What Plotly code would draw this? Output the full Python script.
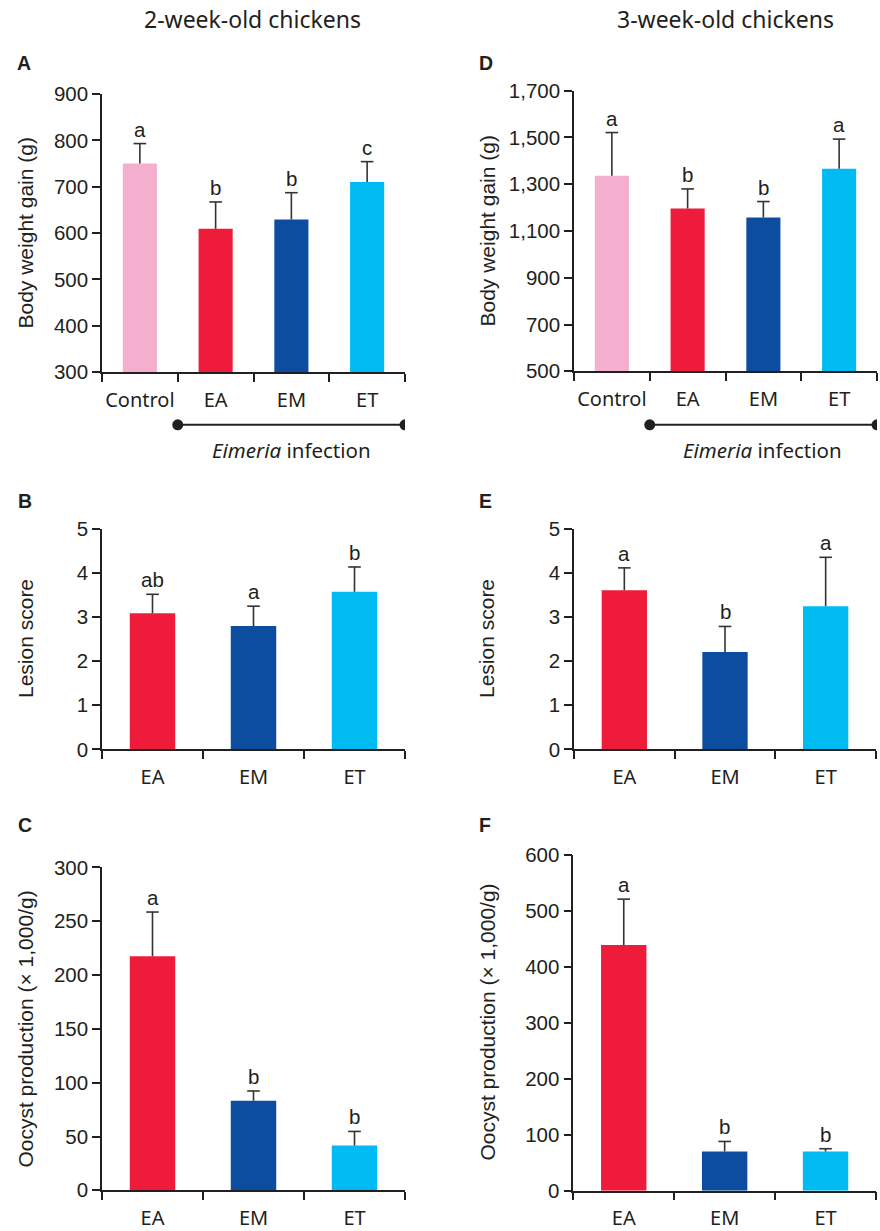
import plotly.graph_objects as go

W, H = 880, 1231

# ---------------- data ----------------
cats_bw = ["Control", "EA", "EM", "ET"]
cats_inf = ["EA", "EM", "ET"]

bw2_mean = [750, 609, 629, 710]
bw2_err = [43, 58, 58, 44]
bw2_sig = ["a", "b", "b", "c"]

bw3_mean = [1336, 1196, 1158, 1366]
bw3_err = [185, 84, 68, 127]
bw3_sig = ["a", "b", "b", "a"]

ls2_mean = [3.09, 2.80, 3.58]
ls2_err = [0.43, 0.45, 0.56]
ls2_sig = ["ab", "a", "b"]

ls3_mean = [3.61, 2.21, 3.25]
ls3_err = [0.51, 0.58, 1.11]
ls3_sig = ["a", "b", "a"]

oo2_mean = [217.6, 83.3, 41.7]
oo2_err = [41, 9, 13]
oo2_sig = ["a", "b", "b"]

oo3_mean = [439, 70, 70]
oo3_err = [82, 18, 5]
oo3_sig = ["a", "b", "b"]

bw2_ticks = [300, 400, 500, 600, 700, 800, 900]
bw3_ticks = [500, 700, 900, 1100, 1300, 1500, 1700]
ls_ticks = [0, 1, 2, 3, 4, 5]
oo2_ticks = [0, 50, 100, 150, 200, 250, 300]
oo3_ticks = [0, 100, 200, 300, 400, 500, 600]

col_bw = ["#F4AECE", "#EE1B3B", "#0D4DA0", "#00BBF1"]
col_inf = ["#EE1B3B", "#0D4DA0", "#00BBF1"]

AX = "#231F20"
ERR = "#333333"
NUM_FONT = "Liberation Sans, Arial, sans-serif"
TXT_FONT = "Noto Sans, sans-serif"

panels = [
    ("A", cats_bw, bw2_mean, bw2_err, bw2_sig, col_bw, [300, 900], bw2_ticks, 102, 405, 94, 373, "Body weight gain (g)"),
    ("D", cats_bw, bw3_mean, bw3_err, bw3_sig, col_bw, [500, 1700], bw3_ticks, 574, 877, 90.7, 372.3, "Body weight gain (g)"),
    ("B", cats_inf, ls2_mean, ls2_err, ls2_sig, col_inf, [0, 5], ls_ticks, 102, 405, 530.7, 751.7, "Lesion score"),
    ("E", cats_inf, ls3_mean, ls3_err, ls3_sig, col_inf, [0, 5], ls_ticks, 574, 876, 530.7, 751.7, "Lesion score"),
    ("C", cats_inf, oo2_mean, oo2_err, oo2_sig, col_inf, [0, 300], oo2_ticks, 102, 405, 870.3, 1194.3, "Oocyst production (× 1,000/g)"),
    ("F", cats_inf, oo3_mean, oo3_err, oo3_sig, col_inf, [0, 600], oo3_ticks, 573.3, 876, 857.7, 1194.7, "Oocyst production (× 1,000/g)"),
]

letter_pos = {"A": (15, 63), "D": (477, 63), "B": (16, 502), "E": (477, 502), "C": (16, 828), "F": (477, 828)}
ytitle_pos = {"A": (25, 234), "D": (488, 232), "B": (25, 641), "E": (486, 641), "C": (26, 1033), "F": (488, 1026)}

fig = go.Figure()
annotations = []
shapes = []

# empirical correction of vertical placement observed in the rendering pipeline
VOFF, VSCALE = 11.7, 0.980


def px2x(p):
    return p / W


def px2y(p):
    q = (p - VOFF) / VSCALE
    return 1 - q / H


for i, (lab, cats, mean, err, sig, cols, yr, ytk, x0, x1, yt, yb, ytitle) in enumerate(panels):
    n = i + 1
    xa = "x" if n == 1 else f"x{n}"
    ya = "y" if n == 1 else f"y{n}"
    tops = [m + e for m, e in zip(mean, err)]
    fig.add_trace(go.Bar(
        x=cats, y=mean, marker=dict(color=cols, line=dict(width=0)),
        width=0.45,
        error_y=dict(type="data", array=err, arrayminus=[0] * len(err), symmetric=False,
                     color=ERR, thickness=1.6, width=0),
        xaxis=xa, yaxis=ya, showlegend=False, hoverinfo="skip",
    ))
    fig.add_trace(go.Scatter(
        x=cats, y=tops, mode="markers",
        marker=dict(symbol="line-ew-open", size=9, color=ERR, line=dict(color=ERR, width=1.6)),
        xaxis=xa, yaxis=ya, showlegend=False, hoverinfo="skip", cliponaxis=False,
    ))
    xkey = "xaxis" if n == 1 else f"xaxis{n}"
    ykey = "yaxis" if n == 1 else f"yaxis{n}"
    fig.update_layout(**{
        xkey: dict(
            domain=[px2x(x0), px2x(x1)], anchor=ya, type="category",
            categoryorder="array", categoryarray=cats,
            range=[-0.5, len(cats) - 0.5],
            showline=True, linecolor=AX, linewidth=1.5,
            ticks="outside", tickson="boundaries", ticklen=8, tickwidth=1.5, tickcolor=AX,
            tickangle=0,
            tickfont=dict(family=TXT_FONT, size=20, color="#231F20"),
            showgrid=False, zeroline=False, fixedrange=True, ticklabelstandoff=9,
        ),
        ykey: dict(
            domain=[px2y(yb), px2y(yt)], anchor=xa, range=yr,
            tickvals=ytk, tickformat=",d",
            showline=True, linecolor=AX, linewidth=1.5,
            ticks="outside", ticklen=8, tickwidth=1.5, tickcolor=AX,
            tickfont=dict(family=NUM_FONT, size=20.5, color="#231F20"),
            showgrid=False, zeroline=False, fixedrange=True,
        ),
    })
    for c, t, s in zip(cats, tops, sig):
        annotations.append(dict(
            x=c, y=t, xref=xa, yref=ya, text=s, showarrow=False,
            xanchor="center", yanchor="bottom", yshift=1,
            font=dict(family=NUM_FONT, size=20.5, color="#231F20"),
        ))
    lx, ly = letter_pos[lab]
    annotations.append(dict(
        x=px2x(lx), y=px2y(ly), xref="paper", yref="paper", text=f"<b>{lab}</b>",
        showarrow=False, xanchor="left", yanchor="middle",
        font=dict(family=NUM_FONT, size=19.5, color="#231F20"),
    ))
    tx, ty = ytitle_pos[lab]
    annotations.append(dict(
        x=px2x(tx), y=px2y(ty), xref="paper", yref="paper", text=ytitle,
        showarrow=False, xanchor="center", yanchor="middle", textangle=-90,
        font=dict(family=NUM_FONT, size=21, color="#231F20"),
    ))

annotations.append(dict(x=px2x(253), y=px2y(19), xref="paper", yref="paper",
                        text="2-week-old chickens", showarrow=False, xanchor="center", yanchor="middle",
                        font=dict(family=TXT_FONT, size=23, color="#231F20")))
annotations.append(dict(x=px2x(725), y=px2y(19), xref="paper", yref="paper",
                        text="3-week-old chickens", showarrow=False, xanchor="center", yanchor="middle",
                        font=dict(family=TXT_FONT, size=23, color="#231F20")))

for xa, cx in (("x", 291), ("x2", 762)):
    ly = px2y(426)
    shapes.append(dict(type="line", xref=xa, yref="paper", x0=0.5, x1=3.5, y0=ly, y1=ly,
                       line=dict(color=AX, width=2)))
    for xv in (0.5, 3.5):
        shapes.append(dict(type="circle", xref=xa, yref="paper", xsizemode="pixel", ysizemode="pixel",
                           xanchor=xv, yanchor=ly, x0=-5.5, x1=5.5, y0=-5.5, y1=5.5,
                           fillcolor=AX, line=dict(color=AX, width=0)))
    annotations.append(dict(x=px2x(cx), y=px2y(451), xref="paper", yref="paper",
                            text="<i>Eimeria</i> infection", showarrow=False,
                            xanchor="center", yanchor="middle",
                            font=dict(family=TXT_FONT, size=20.5, color="#231F20")))

fig.update_layout(
    width=W, height=H, margin=dict(l=0, r=0, t=0, b=0),
    paper_bgcolor="white", plot_bgcolor="white",
    annotations=annotations, shapes=shapes, bargap=0.55,
)

fig.write_html("out.html", config={"displayModeBar": False},
               post_script="document.body.style.margin='0';document.body.style.overflow='hidden';")
